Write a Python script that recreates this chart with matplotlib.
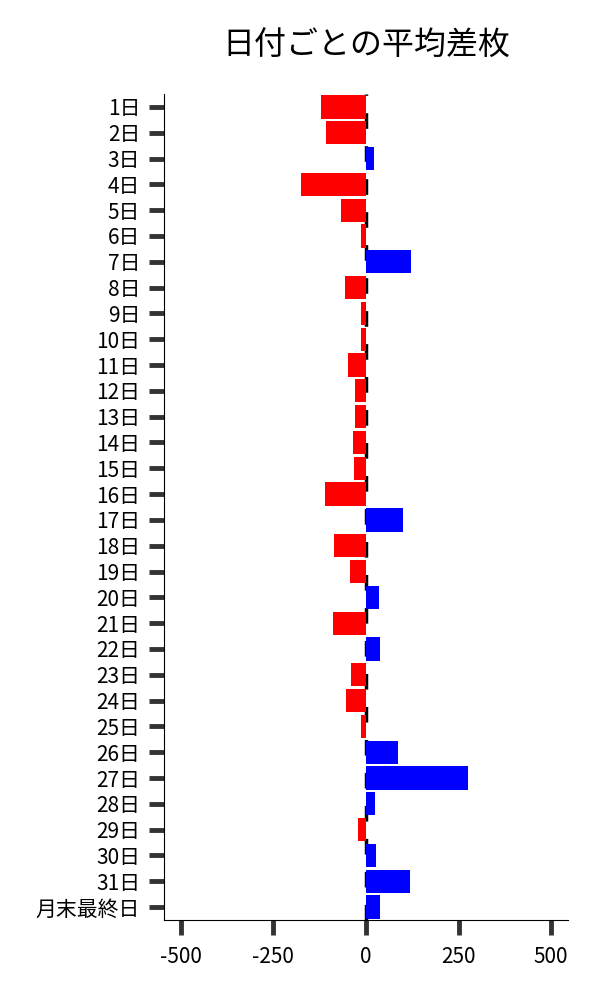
import numpy as np
import matplotlib
matplotlib.use("Agg")
import matplotlib.pyplot as plt

plt.rcParams['font.family'] = ['Noto Sans CJK JP', 'DejaVu Sans']
plt.rcParams['axes.unicode_minus'] = False

# 日付ラベルと平均差枚
labels = [f"{d}日" for d in range(1, 32)] + ["月末最終日"]
values = [-121, -107, 22, -175, -67, -13, 122, -56, -13, -13,
          -48, -29, -29, -34, -32, -110, 101, -86, -43, 36,
          -88, 39, -40, -53, -13, 87, 276, 25, -21, 28,
          120, 39]

colors = ['blue' if v > 0 else 'red' for v in values]
y = np.arange(len(labels))

fig = plt.figure(figsize=(6, 10), dpi=100)
ax = fig.add_axes([0.273, 0.08, 0.674, 0.826])

# 0の基準線（棒の後ろ）
ax.axvline(0, color='black', linewidth=2.5, linestyle=(0, (4.5, 5)), zorder=1)
ax.barh(y, values, height=0.9, color=colors, zorder=2)

ax.set_yticks(y)
ax.set_yticklabels(labels)
ax.set_ylim(len(labels) - 0.5, -0.5)
ax.set_xlim(-546, 546)
ax.set_xticks([-500, -250, 0, 250, 500])

ax.tick_params(axis='both', labelsize=15, length=11, width=3.5, color='#333333', pad=6)
ax.tick_params(axis='x', pad=8)
ax.spines['top'].set_visible(False)
ax.spines['right'].set_visible(False)

ax.set_title("日付ごとの平均差枚", fontsize=23, pad=28)

plt.savefig("out.png", dpi=100)
